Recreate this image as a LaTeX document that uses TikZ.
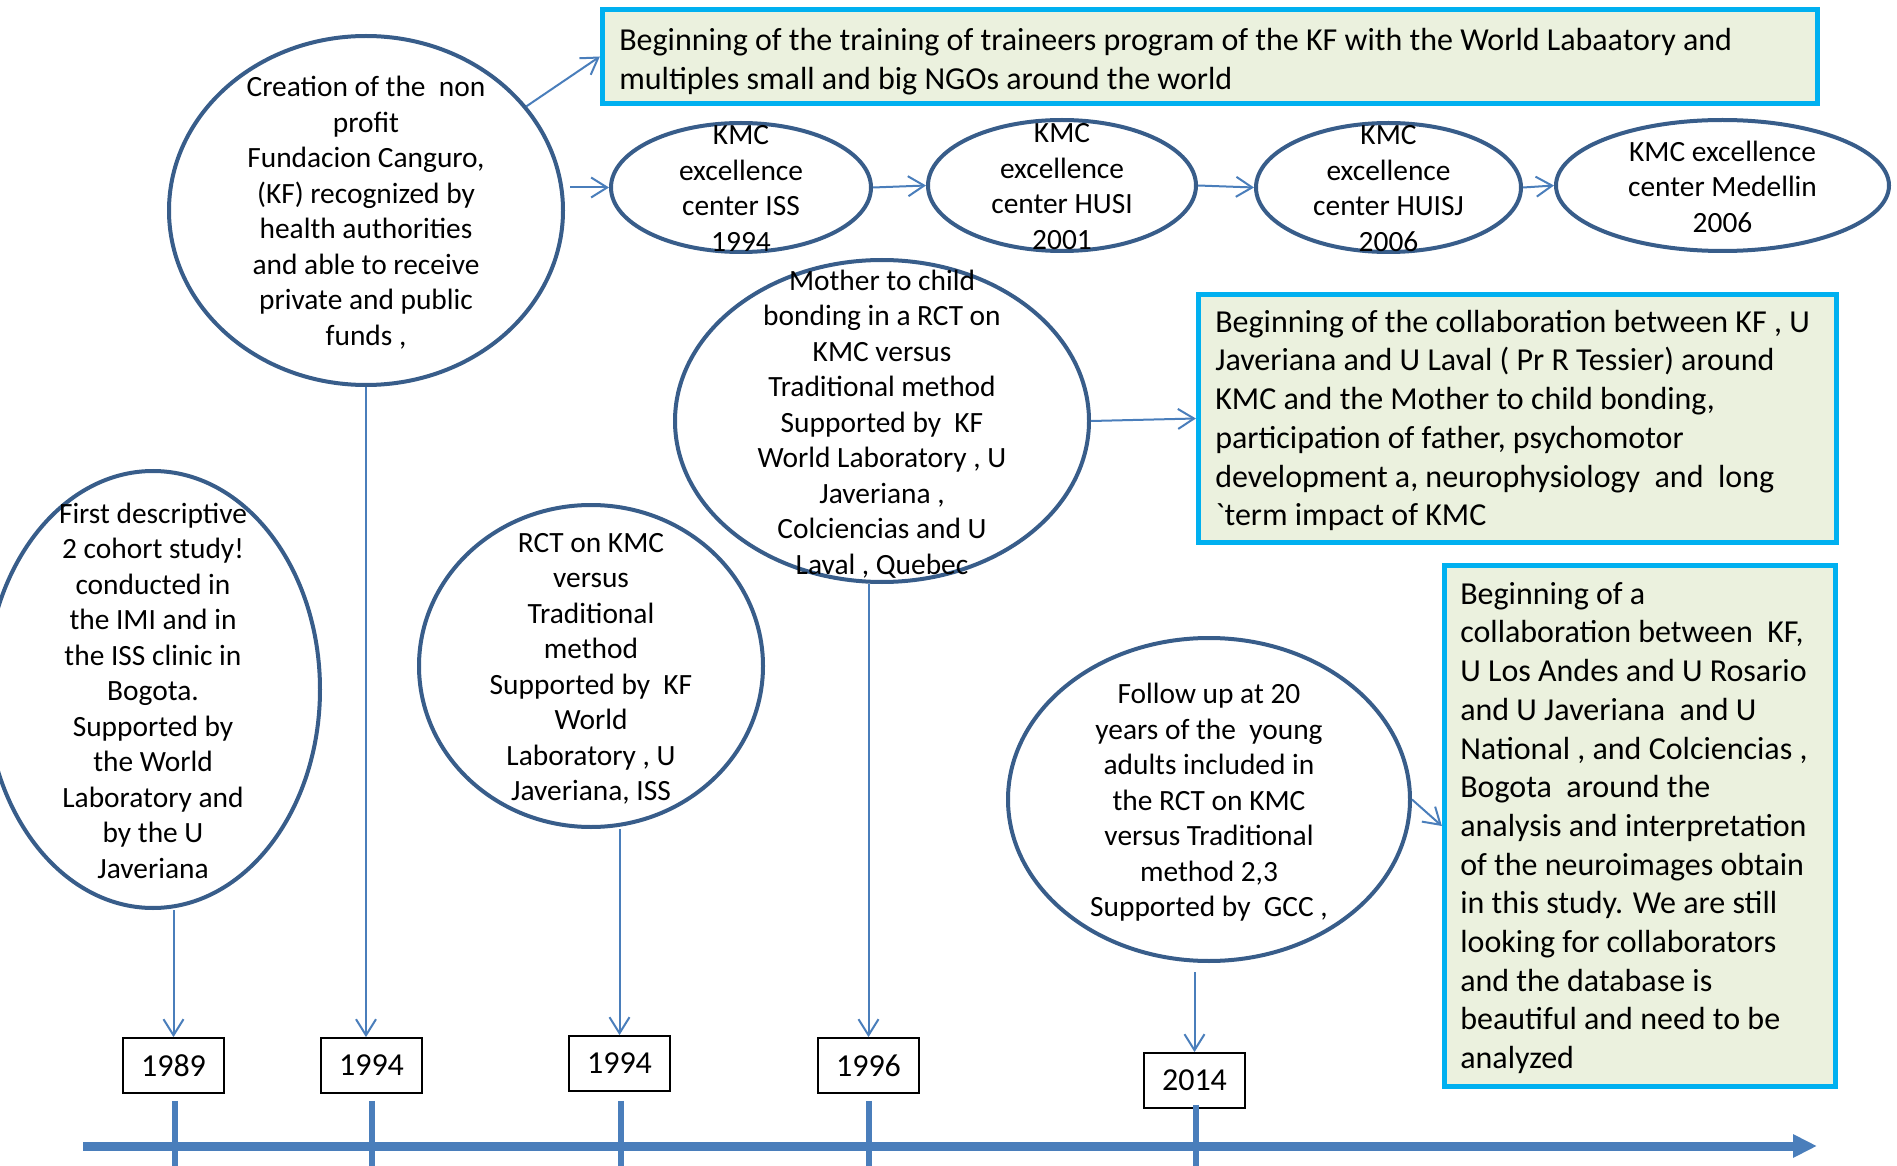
\documentclass[tikz,border=0pt]{standalone}
\usepackage{fontspec}
\setmainfont{Carlito}[Ligatures=TeXOff]
\usetikzlibrary{arrows.meta,shapes.geometric,calc}
\definecolor{ebord}{HTML}{385D8A}
\definecolor{cblue}{HTML}{4A7EBB}
\definecolor{cyanb}{HTML}{00B0F0}
\definecolor{olivef}{HTML}{EBF1DE}
\begin{document}
\begin{tikzpicture}[x=0.5pt,y=-0.5pt,
  ell/.style={ellipse, draw=ebord, line width=2pt, fill=white, inner sep=0pt},
  etxt/.style={align=center, font=\fontsize{14.7pt}{17.75pt}\selectfont, inner sep=0pt},
  cbox/.style={rectangle, draw=cyanb, line width=2.6pt, fill=olivef, inner sep=0pt},
  btxt/.style={align=left, anchor=west, font=\fontsize{16pt}{19.35pt}\selectfont, inner sep=0pt},
  ybox/.style={rectangle, draw=black, line width=0.9pt, fill=white, minimum width=50.5pt, minimum height=27.5pt, inner sep=0pt, font=\fontsize{16pt}{19pt}\selectfont},
  conn/.style={draw=cblue, line width=1pt, -{Straight Barb[length=8pt,width=10pt]}},
  tline/.style={draw=cblue, line width=4.5pt},
  tickmark/.style={draw=cblue, line width=3pt}]
\useasboundingbox (0,0) rectangle (1897,1166);

% cyan boxes
\node[cbox, minimum width=607.5pt, minimum height=47pt] (top) at (1210,56.5) {};
\node[cbox, minimum width=319pt, minimum height=124pt] (mid) at (1517.5,418.5) {};
\node[cbox, minimum width=195.5pt, minimum height=260.5pt] (bot) at (1640,826) {};

\node[btxt] (topT) at ($(top.west)+(19,5)$) {Beginning of the training of traineers program of the KF with the World Labaatory and\\multiples small and big NGOs around the world};
\node[btxt] (midT) at ($(mid.west)+(19,2)$) {Beginning of the collaboration between KF , U\\Javeriana and U Laval ( Pr R Tessier) around\\KMC and the Mother to child bonding,\\participation of father, psychomotor\\development a, neurophysiology\ \ and\ \ long\\`term impact of KMC};
\node[btxt] (botT) at ($(bot.west)+(18,2)$) {Beginning of a\\collaboration between\ \ KF,\\U Los Andes and U Rosario\\and U Javeriana\ \ and U\\National , and Colciencias ,\\Bogota\ \ around the\\analysis and interpretation\\of the neuroimages obtain\\in this study. We are still\\looking for collaborators\\and the database is\\beautiful and need to be\\analyzed};

% ellipses
\node[ell, minimum width=197pt, minimum height=174.5pt] (cre) at (366,210.5) {};
\node[ell, minimum width=130pt, minimum height=64.5pt] (iss) at (741,187.5) {};
\node[ell, minimum width=134pt, minimum height=65.5pt] (husi) at (1062,185.5) {};
\node[ell, minimum width=132.5pt, minimum height=64.5pt] (huisj) at (1388.5,187.5) {};
\node[ell, minimum width=166.5pt, minimum height=65.5pt] (med) at (1722.5,185.5) {};
\node[ell, minimum width=207pt, minimum height=161pt] (mot) at (882,421) {};
\node[ell, minimum width=167pt, minimum height=218.5pt] (first) at (153,689.5) {};
\node[ell, minimum width=172pt, minimum height=161pt] (rct) at (591,666) {};
\node[ell, minimum width=201pt, minimum height=161.5pt] (fol) at (1209,799.5) {};

\node[etxt] (creT) at ($(cre)+(0,2)$) {Creation of the\ \ non\\profit\\Fundacion Canguro,\\(KF) recognized by\\health authorities\\and able to receive\\private and public\\funds ,};
\node[etxt] (issT) at ($(iss)+(0,1)$) {KMC\\excellence\\center ISS\\1994};
\node[etxt] (husiT) at ($(husi)+(0,1)$) {KMC\\excellence\\center HUSI\\2001};
\node[etxt] (huisjT) at ($(huisj)+(0,1)$) {KMC\\excellence\\center HUISJ\\2006};
\node[etxt] (medT) at ($(med)+(0,1)$) {KMC excellence\\center Medellin\\2006};
\node[etxt] (motT) at ($(mot)+(0,3)$) {Mother to child\\bonding in a RCT on\\KMC versus\\Traditional method\\Supported by\ \ KF\\World Laboratory , U\\Javeriana ,\\Colciencias and U\\Laval , Quebec};
\node[etxt] (firstT) at ($(first)+(0,1)$) {First descriptive\\2 cohort study!\\conducted in\\the IMI and in\\the ISS clinic in\\Bogota.\\Supported by\\the World\\Laboratory and\\by the U\\Javeriana};
\node[etxt] (rctT) at ($(rct)+(0,3)$) {RCT on KMC\\versus\\Traditional\\method\\Supported by\ \ KF\\World\\Laboratory , U\\Javeriana, ISS};
\node[etxt] (folT) at ($(fol)+(0,3)$) {Follow up at 20\\years of the\ \ young\\adults included in\\the RCT on KMC\\versus Traditional\\method 2,3\\Supported by\ \ GCC ,};

% year boxes
\node[ybox] (y89) at (173.5,1065.5) {1989};
\node[ybox] (y94a) at (371.5,1065.5) {1994};
\node[ybox] (y94b) at (619.5,1063.5) {1994};
\node[ybox] (y96) at (868.5,1065.5) {1996};
\node[ybox] (y14) at (1194.5,1080.5) {2014};

% connectors
\draw[conn] (cre.33) -- (top.west);
\draw[conn] ($(iss.west -| cre.east)+(5,0)$) -- (iss.west);
\draw[conn] (iss.east) -- (husi.west);
\draw[conn] (husi.east) -- (huisj.west);
\draw[conn] (huisj.east) -- (med.west);
\draw[conn] (mot.east) -- (mid.west);
\draw[conn] (fol.east) -- (bot.west);

\draw[conn] (first.south -| y89.north) -- (y89.north);
\draw[conn] (cre.south) -- (cre.south |- y94a.north);
\draw[conn] (rct.south -| y94b.north) -- (y94b.north);
\draw[conn] (mot.south -| y96.north) -- (y96.north);
\draw[conn] ($(fol.south -| y14.north)+(0,9)$) -- (y14.north);

% timeline
\coordinate (ta) at (83,1146);
\coordinate (tb) at (1817,1146);
\coordinate (bottom) at (0,1172);
\draw[tline, -{Triangle[length=12pt,width=11pt]}] (ta) -- (tb);
\draw[tickmark] ($(y89.south)+(1.5,7)$) -- ($(y89.south |- bottom)+(1.5,0)$);
\draw[tickmark] ($(y94a.south)+(0,7)$) -- (y94a.south |- bottom);
\draw[tickmark] ($(y94b.south)+(1.5,9)$) -- ($(y94b.south |- bottom)+(1.5,0)$);
\draw[tickmark] ($(y96.south)+(0,7)$) -- (y96.south |- bottom);
\draw[tickmark] ($(y14.south)+(1.5,-4)$) -- ($(y14.south |- bottom)+(1.5,0)$);
\end{tikzpicture}
\end{document}
